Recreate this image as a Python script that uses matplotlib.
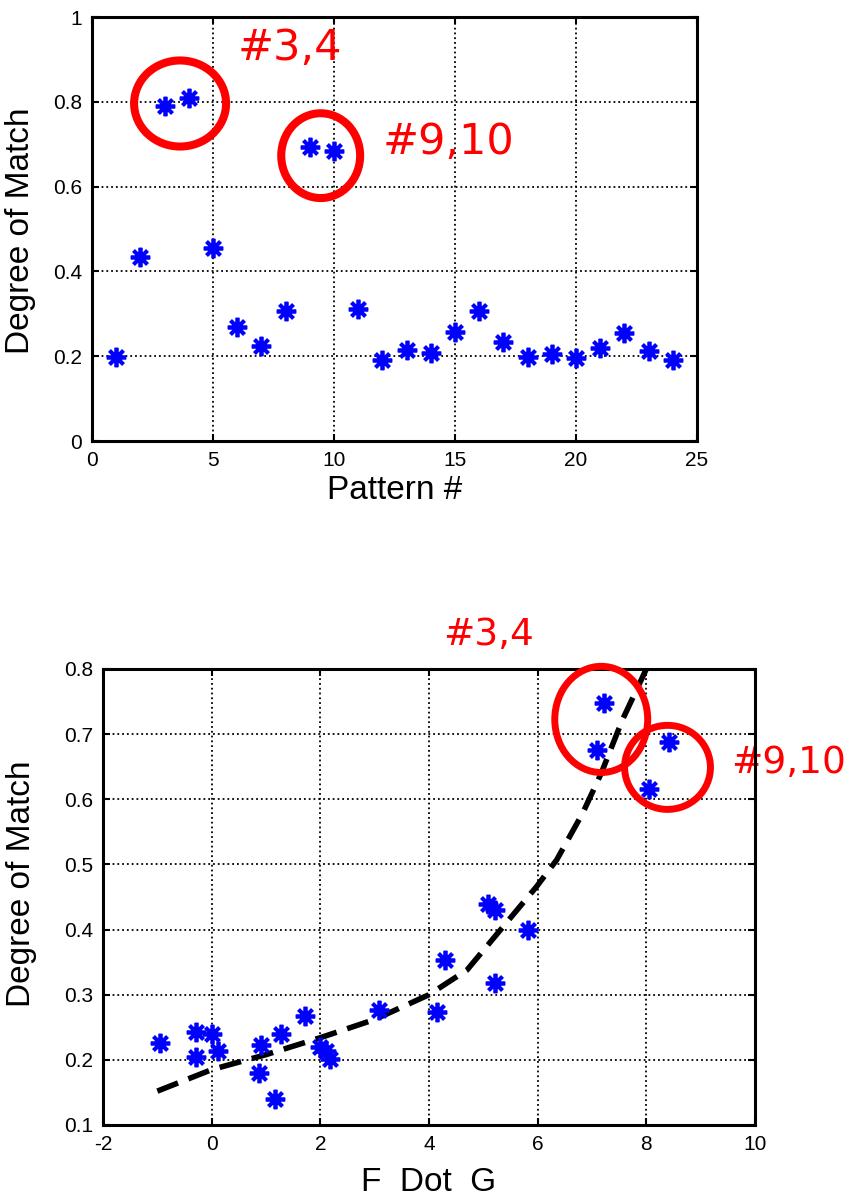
import matplotlib
matplotlib.use('Agg')
import matplotlib.pyplot as plt
from matplotlib.patches import Ellipse

# match score for every stored pattern
pattern_no = list(range(1, 25))
match_score = [0.198, 0.435, 0.79, 0.808, 0.456, 0.27, 0.224, 0.306, 0.693, 0.683,
               0.312, 0.19, 0.215, 0.208, 0.256, 0.307, 0.234, 0.198, 0.206, 0.196,
               0.22, 0.254, 0.212, 0.192]

# match score against the F.G product
fdotg = [-0.95, -0.29, -0.29, 0.0, 0.12, 0.9, 0.88, 1.17, 1.28, 1.72, 2.0, 2.11, 2.17,
         3.08, 4.14, 4.29, 5.08, 5.21, 5.22, 5.82, 7.1, 7.23, 8.04, 8.42]
fdotg_score = [0.226, 0.243, 0.205, 0.24, 0.213, 0.223, 0.18, 0.14, 0.239, 0.268, 0.22,
               0.213, 0.202, 0.277, 0.274, 0.354, 0.44, 0.43, 0.318, 0.40, 0.676, 0.748,
               0.616, 0.688]

# fitted trend
fit_x = [-1, 0, 1, 2, 3, 4, 4.7, 5.36, 5.98, 6.35, 6.83, 7.17, 7.56, 8.0]
fit_y = [0.152, 0.185, 0.208, 0.234, 0.262, 0.30, 0.338, 0.404, 0.466, 0.507, 0.579,
         0.64, 0.722, 0.80]

top_xticks = [0, 5, 10, 15, 20, 25]
top_yticks = [0, 0.2, 0.4, 0.6, 0.8, 1]
top_yticklabels = ['0', '0.2', '0.4', '0.6', '0.8', '1']
bot_xticks = [-2, 0, 2, 4, 6, 8, 10]
bot_yticks = [0.1, 0.2, 0.3, 0.4, 0.5, 0.6, 0.7, 0.8]

# highlighted groups: label, label position, ring centre, ring size
top_marks = [('#3,4', (8.18, 0.899), (3.64, 0.796), (3.80, 0.203)),
             ('#9,10', (14.73, 0.677), (9.45, 0.673), (3.26, 0.200))]
bot_marks = [('#3,4', (5.09, 0.837), (7.17, 0.7226), (1.71, 0.163)),
             ('#9,10', (10.62, 0.640), (8.39, 0.649), (1.58, 0.129))]

plt.rcParams['font.family'] = ['Liberation Sans', 'DejaVu Sans']
plt.rcParams['axes.unicode_minus'] = False

W, H = 853, 1198
fig = plt.figure(figsize=(W / 100, H / 100), dpi=100)
ax1 = fig.add_axes([92 / W, 1 - 441 / H, 605 / W, 424 / H])
ax2 = fig.add_axes([103 / W, 1 - 1125 / H, 652 / W, 456 / H])

star = (8, 2, 0)


def style_axes(ax):
    for s in ax.spines.values():
        s.set_linewidth(2.2)
    ax.grid(True, linestyle=':', color='black', linewidth=1.3)
    ax.tick_params(direction='in', length=5, width=1.5, top=True, right=True,
                   labelsize=15, pad=7)
    ax.set_axisbelow(True)


def add_marks(ax, marks, fsize, lw):
    for label, (tx, ty), (cx, cy), (w, h) in marks:
        ax.add_patch(Ellipse((cx, cy), w, h, fill=False, edgecolor='red',
                             linewidth=lw, clip_on=False, zorder=4))
        ax.text(tx, ty, label, color='red', fontsize=fsize, family='DejaVu Sans',
                ha='center', va='baseline', clip_on=False, zorder=2)


ax1.plot(pattern_no, match_score, linestyle='none', marker=star, markersize=14,
         markeredgewidth=2.7, color='blue', zorder=3)
ax1.set_xlim(0, 25)
ax1.set_ylim(0, 1)
ax1.set_xticks(top_xticks)
ax1.set_yticks(top_yticks)
ax1.set_yticklabels(top_yticklabels)
style_axes(ax1)
add_marks(ax1, top_marks, 31, 5.8)
ax1.set_xlabel('Pattern #', fontsize=24, va='top')
ax1.xaxis.set_label_coords(0.5, -0.08)
ax1.set_ylabel('Degree of Match', fontsize=24)
ax1.yaxis.set_label_coords(-0.093, 0.495)

ax2.plot(fit_x, fit_y, color='black', linewidth=4, linestyle=(0, (4, 2)), zorder=3)
ax2.plot(fdotg, fdotg_score, linestyle='none', marker=star, markersize=14,
         markeredgewidth=2.7, color='blue', zorder=3)
ax2.set_xlim(-2, 10)
ax2.set_ylim(0.1, 0.8)
ax2.set_xticks(bot_xticks)
ax2.set_yticks(bot_yticks)
style_axes(ax2)
add_marks(ax2, bot_marks, 27, 5)
ax2.set_xlabel('F  Dot  G', fontsize=24, va='top')
ax2.xaxis.set_label_coords(0.5, -0.092)
ax2.set_ylabel('Degree of Match', fontsize=24)
ax2.yaxis.set_label_coords(-0.101, 0.53)

fig.savefig('out.png', dpi=100)
